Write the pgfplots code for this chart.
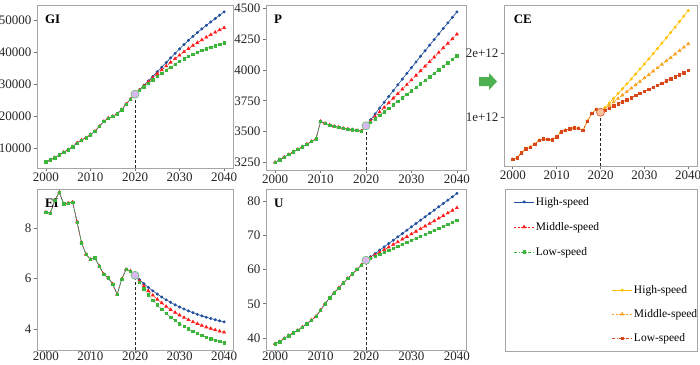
\documentclass[border=0pt]{standalone}
\usepackage{pgfplots}
\pgfplotsset{compat=1.18}
\usepackage{pgfplotstable}
\usepackage{fontspec}
\setmainfont{Liberation Serif}

\definecolor{hblue}{HTML}{1F4E9C}
\definecolor{mred}{HTML}{FF1A1A}
\definecolor{lgreen}{HTML}{3DB53D}
\definecolor{chigh}{HTML}{FFC000}
\definecolor{cmid}{HTML}{F9A21B}
\definecolor{clow}{HTML}{D9461A}
\definecolor{hlfill}{HTML}{D9B8F2}
\definecolor{hldraw}{HTML}{7CC47C}
\definecolor{cefill}{HTML}{F8C3A0}
\definecolor{arrowgreen}{HTML}{4CAF50}
\definecolor{framegray}{HTML}{A6A6A6}

\pgfplotstableread{
year high mid low
2000 5640 5640 5640
2001 6260 6260 6260
2002 7000 7000 7000
2003 7820 7820 7820
2004 8650 8650 8650
2005 9480 9480 9480
2006 10400 10400 10400
2007 11560 11560 11560
2008 12500 12500 12500
2009 13220 13220 13220
2010 14150 14150 14150
2011 15200 15200 15200
2012 16750 16750 16750
2013 18300 18300 18300
2014 19350 19350 19350
2015 19870 19870 19870
2016 20700 20700 20700
2017 21950 21950 21950
2018 23700 23700 23700
2019 25270 25270 25270
2020 26830 26830 26830
2021 28180 28130 27980
2022 29560 29420 29110
2023 30960 30700 30220
2024 32380 31960 31300
2025 33820 33200 32350
2026 35270 34420 33370
2027 36720 35610 34360
2028 38160 36770 35320
2029 39580 37900 36250
2030 40980 39000 37150
2031 42330 40060 37930
2032 43630 41070 38650
2033 44880 42030 39330
2034 46080 42940 39960
2035 47230 43800 40550
2036 48330 44620 41070
2037 49410 45410 41550
2038 50470 46170 42000
2039 51510 46900 42430
2040 52530 47600 42850
}\tGI

\pgfplotstableread{
year high mid low
2000 3252 3252 3252
2001 3273 3273 3273
2002 3294 3294 3294
2003 3315 3315 3315
2004 3336 3336 3336
2005 3357 3357 3357
2006 3378 3378 3378
2007 3399 3399 3399
2008 3420 3420 3420
2009 3441 3441 3441
2010 3583 3583 3583
2011 3567 3567 3567
2012 3554 3554 3554
2013 3543 3543 3543
2014 3535 3535 3535
2015 3527 3527 3527
2016 3521 3521 3521
2017 3516 3516 3516
2018 3510 3510 3510
2019 3505 3505 3505
2020 3548 3548 3548
2021 3596 3585 3576
2022 3644 3622 3604
2023 3691 3659 3633
2024 3738 3696 3661
2025 3785 3733 3689
2026 3832 3770 3717
2027 3879 3807 3746
2028 3926 3844 3774
2029 3972 3881 3802
2030 4018 3918 3830
2031 4064 3955 3859
2032 4110 3992 3887
2033 4155 4029 3915
2034 4200 4066 3943
2035 4245 4103 3972
2036 4290 4140 4000
2037 4335 4177 4028
2038 4380 4214 4056
2039 4425 4251 4085
2040 4469 4288 4113
}\tP

\pgfplotstableread{
year high mid low
2000 0.335 0.335 0.335
2001 0.362 0.362 0.362
2002 0.440 0.440 0.440
2003 0.500 0.500 0.500
2004 0.526 0.526 0.526
2005 0.575 0.575 0.575
2006 0.634 0.634 0.634
2007 0.657 0.657 0.657
2008 0.648 0.648 0.648
2009 0.645 0.645 0.645
2010 0.688 0.688 0.688
2011 0.770 0.770 0.770
2012 0.793 0.793 0.793
2013 0.815 0.815 0.815
2014 0.833 0.833 0.833
2015 0.821 0.821 0.821
2016 0.789 0.789 0.789
2017 0.937 0.937 0.937
2018 1.053 1.053 1.053
2019 1.116 1.116 1.116
2020 1.074 1.074 1.074
2021 1.146 1.127 1.107
2022 1.219 1.181 1.139
2023 1.292 1.234 1.172
2024 1.366 1.288 1.204
2025 1.441 1.341 1.237
2026 1.517 1.394 1.270
2027 1.594 1.448 1.302
2028 1.671 1.501 1.335
2029 1.749 1.555 1.367
2030 1.828 1.608 1.400
2031 1.908 1.661 1.433
2032 1.989 1.715 1.465
2033 2.071 1.768 1.498
2034 2.153 1.822 1.530
2035 2.236 1.875 1.563
2036 2.320 1.928 1.596
2037 2.405 1.982 1.628
2038 2.490 2.035 1.661
2039 2.576 2.089 1.693
2040 2.663 2.142 1.726
}\tCE

\pgfplotstableread{
year high mid low
2000 8.63 8.63 8.63
2001 8.59 8.59 8.59
2002 9.10 9.10 9.10
2003 9.42 9.42 9.42
2004 8.96 8.96 8.96
2005 8.99 8.99 8.99
2006 9.03 9.03 9.03
2007 8.24 8.24 8.24
2008 7.42 7.42 7.42
2009 6.96 6.96 6.96
2010 6.76 6.76 6.76
2011 6.82 6.82 6.82
2012 6.49 6.49 6.49
2013 6.17 6.17 6.17
2014 6.03 6.03 6.03
2015 5.78 5.78 5.78
2016 5.37 5.37 5.37
2017 5.97 5.97 5.97
2018 6.36 6.36 6.36
2019 6.30 6.30 6.30
2020 6.13 6.13 6.13
2021 5.958 5.906 5.850
2022 5.798 5.700 5.595
2023 5.650 5.511 5.362
2024 5.513 5.337 5.150
2025 5.386 5.177 4.956
2026 5.268 5.030 4.779
2027 5.158 4.895 4.618
2028 5.056 4.771 4.471
2029 4.962 4.657 4.337
2030 4.875 4.552 4.215
2031 4.794 4.455 4.104
2032 4.719 4.366 4.003
2033 4.649 4.284 3.911
2034 4.584 4.209 3.827
2035 4.524 4.140 3.750
2036 4.469 4.077 3.680
2037 4.418 4.019 3.616
2038 4.370 3.965 3.558
2039 4.326 3.916 3.505
2040 4.285 3.871 3.456
}\tEI

\pgfplotstableread{
year high mid low
2000 38.34 38.34 38.34
2001 38.9 38.9 38.9
2002 39.9 39.9 39.9
2003 40.7 40.7 40.7
2004 41.5 41.5 41.5
2005 42.2 42.2 42.2
2006 43.2 43.2 43.2
2007 44.2 44.2 44.2
2008 45.2 45.2 45.2
2009 46.3 46.3 46.3
2010 48.1 48.1 48.1
2011 50.0 50.0 50.0
2012 51.7 51.7 51.7
2013 53.2 53.2 53.2
2014 54.6 54.6 54.6
2015 56.1 56.1 56.1
2016 57.4 57.4 57.4
2017 58.7 58.7 58.7
2018 60.0 60.0 60.0
2019 61.3 61.3 61.3
2020 62.7 62.7 62.7
2021 63.68 63.47 63.29
2022 64.65 64.23 63.87
2023 65.63 65.00 64.46
2024 66.60 65.76 65.04
2025 67.58 66.53 65.63
2026 68.55 67.29 66.21
2027 69.53 68.06 66.80
2028 70.50 68.82 67.38
2029 71.48 69.59 67.97
2030 72.45 70.35 68.55
2031 73.43 71.12 69.14
2032 74.40 71.88 69.72
2033 75.38 72.65 70.31
2034 76.35 73.41 70.89
2035 77.33 74.18 71.48
2036 78.30 74.94 72.06
2037 79.28 75.71 72.65
2038 80.25 76.47 73.23
2039 81.23 77.24 73.82
2040 82.20 78.00 74.40
}\tU

\tikzset{plab/.style={anchor=north west, font=\bfseries\fontsize{13}{13}\selectfont, inner sep=0pt}}

\pgfplotsset{
  panel/.style={scale only axis, anchor=north west,
    xmin=1998, xmax=2042, xtick={2000,2010,2020,2030,2040},
    scaled ticks=false,
    axis line style={draw=framegray, line width=0.8pt},
    tick style={draw=black!55, line width=0.6pt},
    tick align=outside, major tick length=3pt, tick pos=left,
    /pgf/number format/assume math mode=true,
    /pgf/number format/1000 sep={},
    xticklabel style={font=\fontsize{13}{13}\selectfont, text=black!85},
    yticklabel style={font=\fontsize{13}{13}\selectfont, text=black!85, xshift=1pt},
  },
  toprow/.style={xticklabel style={yshift=1.5pt}},
  botrow/.style={xticklabel style={yshift=4.5pt}},
  hs/.style={color=hblue, line width=0.6pt, mark=*, mark size=1.2pt},
  ms/.style={color=mred, line width=0.6pt, dash pattern=on 2pt off 1.5pt, mark=triangle*, mark size=1.7pt, mark options={solid}},
  ls/.style={color=lgreen, line width=0.6pt, dash pattern=on 3pt off 1.5pt on 1pt off 1.5pt, mark=square*, mark size=1.2pt, mark options={solid}},
  chs/.style={color=chigh, line width=0.6pt, mark=*, mark size=1.2pt},
  cms/.style={color=cmid, line width=0.6pt, dash pattern=on 2pt off 1.5pt, mark=triangle*, mark size=1.7pt, mark options={solid}},
  cls/.style={color=clow, line width=0.6pt, dash pattern=on 3pt off 1.5pt on 1pt off 1.5pt, mark=square*, mark size=1.2pt, mark options={solid}},
  vdash/.style={color=black!85, line width=0.8pt, dash pattern=on 3pt off 2pt},
  hl/.style={only marks, mark=*, mark size=4pt, mark options={fill=hlfill, draw=hldraw, line width=0.8pt}},
  hlce/.style={only marks, mark=*, mark size=4pt, mark options={fill=cefill, draw=clow!80, line width=0.8pt}},
  legend image code/.code={\draw[mark repeat=2,mark phase=2,#1] plot coordinates {(0pt,0pt) (10pt,0pt) (20pt,0pt)};},
}

\newcommand{\scen}[4]{%
  \addplot[#2] table[x=year,y=high]{#1};
  \addplot[#3] table[x=year,y=mid]{#1};
  \addplot[#4] table[x=year,y=low]{#1};
}

\begin{document}
\begin{tikzpicture}
\useasboundingbox (0pt,0pt) rectangle (700pt,-364pt);

% GI
\begin{axis}[panel, toprow, at={(37pt,-5pt)}, width=196pt, height=163pt,
  ymin=3750, ymax=54700, ytick={10000,20000,30000,40000,50000}]
\addplot[vdash] coordinates {(2020,3750) (2020,26830)};
\scen{\tGI}{hs}{ms}{ls}
\addplot[hl] coordinates {(2020,26830)};
\node[plab] at (rel axis cs:0.04,0.94) {GI};
\end{axis}

% P
\begin{axis}[panel, toprow, at={(266pt,-5pt)}, width=200pt, height=165pt,
  ymin=3190, ymax=4525, ytick={3250,3500,3750,4000,4250,4500}]
\addplot[vdash] coordinates {(2020,3190) (2020,3548)};
\scen{\tP}{hs}{ms}{ls}
\addplot[hl] coordinates {(2020,3548)};
\node[plab] at (rel axis cs:0.04,0.94) {P};
\end{axis}

% CE
\begin{axis}[panel, toprow, at={(504pt,-5pt)}, width=193pt, height=161pt,
  ymin=0.234, ymax=2.75, ytick={1,2}, yticklabels={1e+12,2e+12}]
\addplot[vdash] coordinates {(2020,0.234) (2020,1.074)};
\scen{\tCE}{chs}{cms}{cls}
\addplot[hlce] coordinates {(2020,1.074)};
\node[plab] at (rel axis cs:0.05,0.94) {CE};
\end{axis}

% EI
\begin{axis}[panel, botrow, at={(37pt,-189pt)}, width=196pt, height=161pt,
  ymin=3.17, ymax=9.55, ytick={4,6,8}]
\addplot[vdash] coordinates {(2020,3.17) (2020,6.13)};
\scen{\tEI}{hs}{ms}{ls}
\addplot[hl] coordinates {(2020,6.13)};
\node[plab] at (rel axis cs:0.04,0.94) {EI};
\end{axis}

% U
\begin{axis}[panel, botrow, at={(266pt,-189pt)}, width=200pt, height=161pt,
  ymin=36.5, ymax=83.5, ytick={40,50,60,70,80}]
\addplot[vdash] coordinates {(2020,36.5) (2020,62.7)};
\scen{\tU}{hs}{ms}{ls}
\addplot[hl] coordinates {(2020,62.7)};
\node[plab] at (rel axis cs:0.04,0.94) {U};
\end{axis}

% legend box
\draw[framegray, line width=0.8pt] (505pt,-189pt) rectangle (697pt,-351pt);
\begin{axis}[scale only axis, anchor=north west, at={(505pt,-189pt)}, width=192pt, height=162pt,
  hide axis, xmin=0, xmax=1, ymin=0, ymax=1,
  legend cell align=left,
  legend style={draw=none, fill=none, at={(0.045,0.96)}, anchor=north west,
    font=\fontsize{11.5}{12}\selectfont, row sep=12.5pt, inner sep=0pt, nodes={inner sep=1.5pt}}]
\addlegendimage{hs}\addlegendentry{High-speed}
\addlegendimage{ms}\addlegendentry{Middle-speed}
\addlegendimage{ls}\addlegendentry{Low-speed}
\end{axis}
\begin{axis}[scale only axis, anchor=north west, at={(505pt,-189pt)}, width=192pt, height=162pt,
  hide axis, xmin=0, xmax=1, ymin=0, ymax=1,
  legend cell align=left,
  legend style={draw=none, fill=none, at={(1.01,0.04)}, anchor=south east,
    font=\fontsize{11.5}{12}\selectfont, row sep=11.5pt, inner sep=0pt, nodes={inner sep=1.5pt}}]
\addlegendimage{chs}\addlegendentry{High-speed}
\addlegendimage{cms}\addlegendentry{Middle-speed}
\addlegendimage{cls}\addlegendentry{Low-speed}
\end{axis}

% green arrow
\fill[arrowgreen] (479pt,-77pt) -- (489pt,-77pt) -- (489pt,-73pt) -- (497pt,-81.5pt)
  -- (489pt,-90pt) -- (489pt,-86pt) -- (479pt,-86pt) -- cycle;
\end{tikzpicture}
\end{document}
